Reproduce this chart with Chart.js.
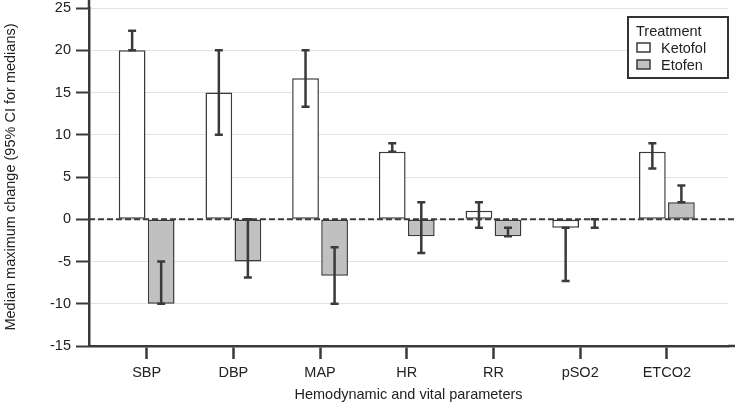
<!DOCTYPE html>
<html lang="en">
<head>
  <meta charset="UTF-8" />
  <title>Median maximum change</title>
  <script src="https://cdn.jsdelivr.net/npm/chart.js"></script>
  <style>
    html, body { margin: 0; padding: 0; background: #fff; }
    #wrap { width: 737px; height: 404px; }
  </style>
</head>
<body>
  <div id="wrap"><canvas id="chart"></canvas></div>

  <script>
    // values
    const categories = ['SBP', 'DBP', 'MAP', 'HR', 'RR', 'pSO2', 'ETCO2'];
    const ketofol     = [20, 15, 16.7, 8, 1, -1, 8];
    const ketofolLow  = [20, 10, 13.3, 8, -1, -7.3, 6];
    const ketofolHigh = [22.3, 20, 20, 9, 2, -1, 9];
    const etofen      = [-10, -5, -6.7, -2, -2, 0, 2];
    const etofenLow   = [-10, -6.9, -10, -4, -2, -1, 2];
    const etofenHigh  = [-5, 0, -3.3, 2, -1, 0, 4];
    const yTicks = [-15, -10, -5, 0, 5, 10, 15, 20, 25];

    const FONT = "'Liberation Sans', Arial, sans-serif";
    const DARK = '#3a3a3a';

    // dashed reference line at 0, plus the axis overhangs
    const zeroLine = {
      id: 'zeroLine',
      afterDatasetsDraw(chart) {
        const { ctx, chartArea, scales } = chart;
        const y0 = scales.y.getPixelForValue(0);
        ctx.save();
        ctx.strokeStyle = DARK;
        ctx.lineWidth = 2;
        ctx.setLineDash([6, 3]);
        ctx.beginPath();
        ctx.moveTo(chartArea.left, y0);
        ctx.lineTo(chartArea.right + 8, y0);
        ctx.stroke();
        ctx.setLineDash([]);
        ctx.lineWidth = 2.5;
        ctx.beginPath();
        ctx.moveTo(chartArea.right, chartArea.bottom);
        ctx.lineTo(chartArea.right + 7, chartArea.bottom);
        ctx.moveTo(chartArea.left, chartArea.top);
        ctx.lineTo(chartArea.left, 0);
        ctx.stroke();
        ctx.restore();
      }
    };

    // CI whiskers
    const errorBars = {
      id: 'errorBars',
      afterDatasetsDraw(chart) {
        const { ctx, scales } = chart;
        ctx.save();
        ctx.strokeStyle = DARK;
        ctx.lineWidth = 2.5;
        chart.data.datasets.forEach((ds, di) => {
          chart.getDatasetMeta(di).data.forEach((bar, i) => {
            const top = scales.y.getPixelForValue(ds.high[i]);
            const bot = scales.y.getPixelForValue(ds.low[i]);
            ctx.beginPath();
            ctx.moveTo(bar.x, top); ctx.lineTo(bar.x, bot);
            ctx.moveTo(bar.x - 4, top); ctx.lineTo(bar.x + 4, top);
            ctx.moveTo(bar.x - 4, bot); ctx.lineTo(bar.x + 4, bot);
            ctx.stroke();
          });
        });
        ctx.restore();
      }
    };

    // boxed legend with a title, top right of the plot
    const boxLegend = {
      id: 'boxLegend',
      afterDraw(chart) {
        const { ctx, chartArea } = chart;
        const w = 100, h = 61;
        const x = chartArea.right - w, y = chartArea.top + 9;
        ctx.save();
        ctx.strokeStyle = '#333';
        ctx.lineWidth = 2;
        ctx.fillStyle = '#fff';
        ctx.fillRect(x, y, w, h);
        ctx.strokeRect(x, y, w, h);
        ctx.font = '14.5px ' + FONT;
        ctx.fillStyle = '#222';
        ctx.textBaseline = 'alphabetic';
        ctx.fillText('Treatment', x + 8, y + 19);
        chart.data.datasets.forEach((ds, i) => {
          const ry = y + 26 + i * 17;
          ctx.fillStyle = ds.backgroundColor;
          ctx.fillRect(x + 9, ry, 13, 9);
          ctx.strokeStyle = DARK;
          ctx.lineWidth = 1.5;
          ctx.strokeRect(x + 9, ry, 13, 9);
          ctx.fillStyle = '#222';
          ctx.fillText(ds.label, x + 33, ry + 10);
        });
        ctx.restore();
      }
    };

    new Chart(document.getElementById('chart'), {
      type: 'bar',
      data: {
        datasets: [{
          label: 'Ketofol',
          data: ketofol.map((v, i) => ({ x: i, y: v })),
          low: ketofolLow,
          high: ketofolHigh,
          backgroundColor: '#ffffff',
          borderColor: DARK,
          borderWidth: 1.5,
          borderSkipped: false
        }, {
          label: 'Etofen',
          data: etofen.map((v, i) => ({ x: i, y: v })),
          low: etofenLow,
          high: etofenHigh,
          backgroundColor: '#c0c0c0',
          borderColor: DARK,
          borderWidth: 1.5,
          borderSkipped: false
        }]
      },
      options: {
        responsive: true,
        maintainAspectRatio: false,
        animation: false,
        categoryPercentage: 0.67,
        barPercentage: 0.92,
        layout: { padding: { top: 8, right: 9, bottom: 0, left: 0 } },
        plugins: {
          legend: { display: false },
          tooltip: { enabled: false }
        },
        scales: {
          x: {
            type: 'linear',
            offset: false,
            min: -0.665,
            max: 6.705,
            afterBuildTicks: s => { s.ticks = categories.map((c, i) => ({ value: i })); },
            afterFit: s => { s.height = 58; },
            ticks: {
              autoSkip: false,
              maxRotation: 0,
              padding: 5,
              color: '#222',
              font: { family: FONT, size: 14.5 },
              callback: v => categories[v]
            },
            grid: {
              offset: false,
              drawOnChartArea: false,
              drawTicks: true,
              tickLength: 13,
              tickColor: DARK,
              tickWidth: 2.5
            },
            border: { color: DARK, width: 2.5 },
            title: {
              display: true,
              text: 'Hemodynamic and vital parameters',
              color: '#222',
              font: { family: FONT, size: 14.5 },
              padding: { top: 0, bottom: 0 }
            }
          },
          y: {
            min: -15,
            max: 25,
            afterBuildTicks: s => { s.ticks = yTicks.map(v => ({ value: v })); },
            afterFit: s => { s.width = 89; s.paddingTop = 0; },
            ticks: {
              padding: 5,
              color: '#222',
              font: { family: FONT, size: 14.5 }
            },
            grid: {
              color: '#e2e2e2',
              lineWidth: 1,
              drawTicks: true,
              tickLength: 13,
              tickColor: DARK,
              tickWidth: 2
            },
            border: { color: DARK, width: 2.5 },
            title: {
              display: true,
              text: 'Median maximum change (95% CI for medians)',
              color: '#222',
              font: { family: FONT, size: 14.5 },
              padding: { top: 2, bottom: 0 }
            }
          }
        }
      },
      plugins: [zeroLine, errorBars, boxLegend]
    });
  </script>
</body>
</html>
